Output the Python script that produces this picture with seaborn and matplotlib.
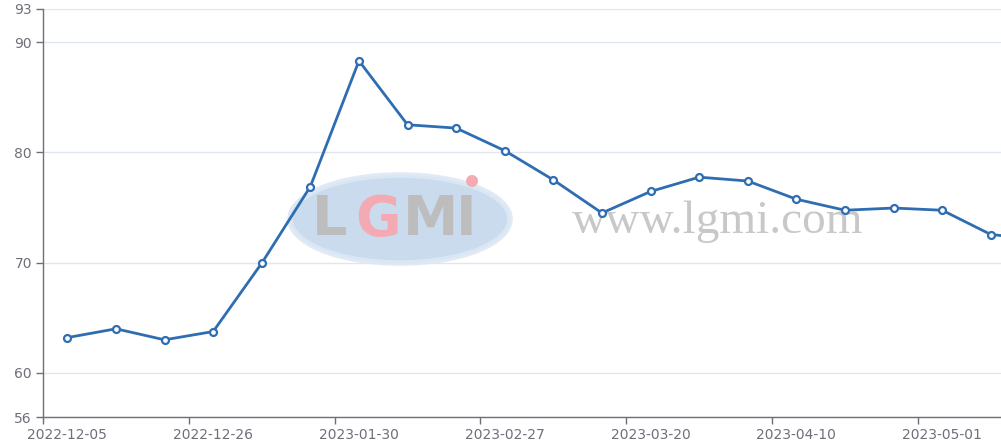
import numpy as np
import pandas as pd
import seaborn as sns
from matplotlib import pyplot as plt
from matplotlib.patches import Ellipse

dates = ["2022-12-05", "2022-12-12", "2022-12-19", "2022-12-26", "2023-01-09",
         "2023-01-16", "2023-01-30", "2023-02-06", "2023-02-13", "2023-02-27",
         "2023-03-06", "2023-03-13", "2023-03-20", "2023-03-27", "2023-04-03",
         "2023-04-10", "2023-04-17", "2023-04-24", "2023-05-01", "2023-05-08",
         "2023-05-15"]
values = [63.2, 64.0, 63.0, 63.75, 69.95, 76.9, 88.3, 82.5, 82.2, 80.15,
          77.5, 74.5, 76.45, 77.75, 77.4, 75.75, 74.75, 74.95, 74.75, 72.55,
          72.1]
y_ticks = [56, 60, 70, 80, 90, 93]
label_every = 3

LINE = "#2F6DB3"
AXIS = "#6E7079"

sns.set_theme(style="white")
plt.rcParams["font.family"] = ["DejaVu Sans"]

fig = plt.figure(figsize=(10.01, 4.45), dpi=100)
ax = fig.add_axes([0.043, 0.0629, 0.957, 0.9169])

df = pd.DataFrame({"pos": np.arange(len(dates)), "value": values})
sns.lineplot(data=df, x="pos", y="value", ax=ax, color=LINE, linewidth=2,
             marker="o", markersize=5, markeredgecolor=LINE,
             markeredgewidth=1.6, zorder=5)
for ln in ax.lines:
    ln.set_markerfacecolor("white")

ax.set_xlim(-0.5, 19.21)
ax.set_ylim(y_ticks[0], y_ticks[-1])
ax.set_yticks(y_ticks)
# labels sit on the category, the tick marks on the band edge
tick_idx = list(range(0, len(dates), label_every))
ax.set_xticks(tick_idx)
ax.set_xticklabels([dates[i] for i in tick_idx])
ax.set_xticks([i - 0.5 for i in tick_idx], minor=True)
ax.set_xlabel("")
ax.set_ylabel("")

ax.yaxis.grid(True, color="#E0E6F1", linewidth=1)
ax.xaxis.grid(False)
ax.set_axisbelow(True)
for side in ["top", "right"]:
    ax.spines[side].set_visible(False)
for side in ["left", "bottom"]:
    ax.spines[side].set_color(AXIS)
    ax.spines[side].set_linewidth(1)
ax.tick_params(axis="y", length=5, width=1, color=AXIS, labelcolor=AXIS,
               labelsize=10, left=True, pad=3)
ax.tick_params(axis="x", which="major", length=0, labelcolor=AXIS,
               labelsize=10, bottom=True, pad=8)
ax.tick_params(axis="x", which="minor", length=5, width=1, color=AXIS,
               bottom=True)


# watermark, positions in pixels of the axes box
def px(x, y):
    return (x - 43) / 958, (417 - y) / 408


ell = Ellipse(px(400, 219), 220 / 958, 88 / 408, transform=ax.transAxes,
              facecolor="#C4D8EC", edgecolor="#DCE8F4", linewidth=4,
              alpha=0.9, zorder=1)
ax.add_patch(ell)
for ch, x, col in [("L", 330, "#BDBDBD"), ("G", 378, "#F3AAB3"),
                   ("M", 430, "#BDBDBD"), ("I", 466, "#BDBDBD")]:
    ax.text(*px(x, 220), ch, transform=ax.transAxes, ha="center",
            va="center", fontsize=40, fontweight="bold", color=col,
            zorder=2)
ax.add_patch(Ellipse(px(472, 181), 12 / 958, 12 / 408,
                     transform=ax.transAxes, facecolor="#F3AAB3",
                     edgecolor="none", zorder=2))
ax.text(*px(718, 222), "www.lgmi.com", transform=ax.transAxes,
        ha="center", va="center", fontsize=34, color="#C8C8C8",
        family="Liberation Serif", zorder=2)

fig.savefig("out.png", dpi=100)
